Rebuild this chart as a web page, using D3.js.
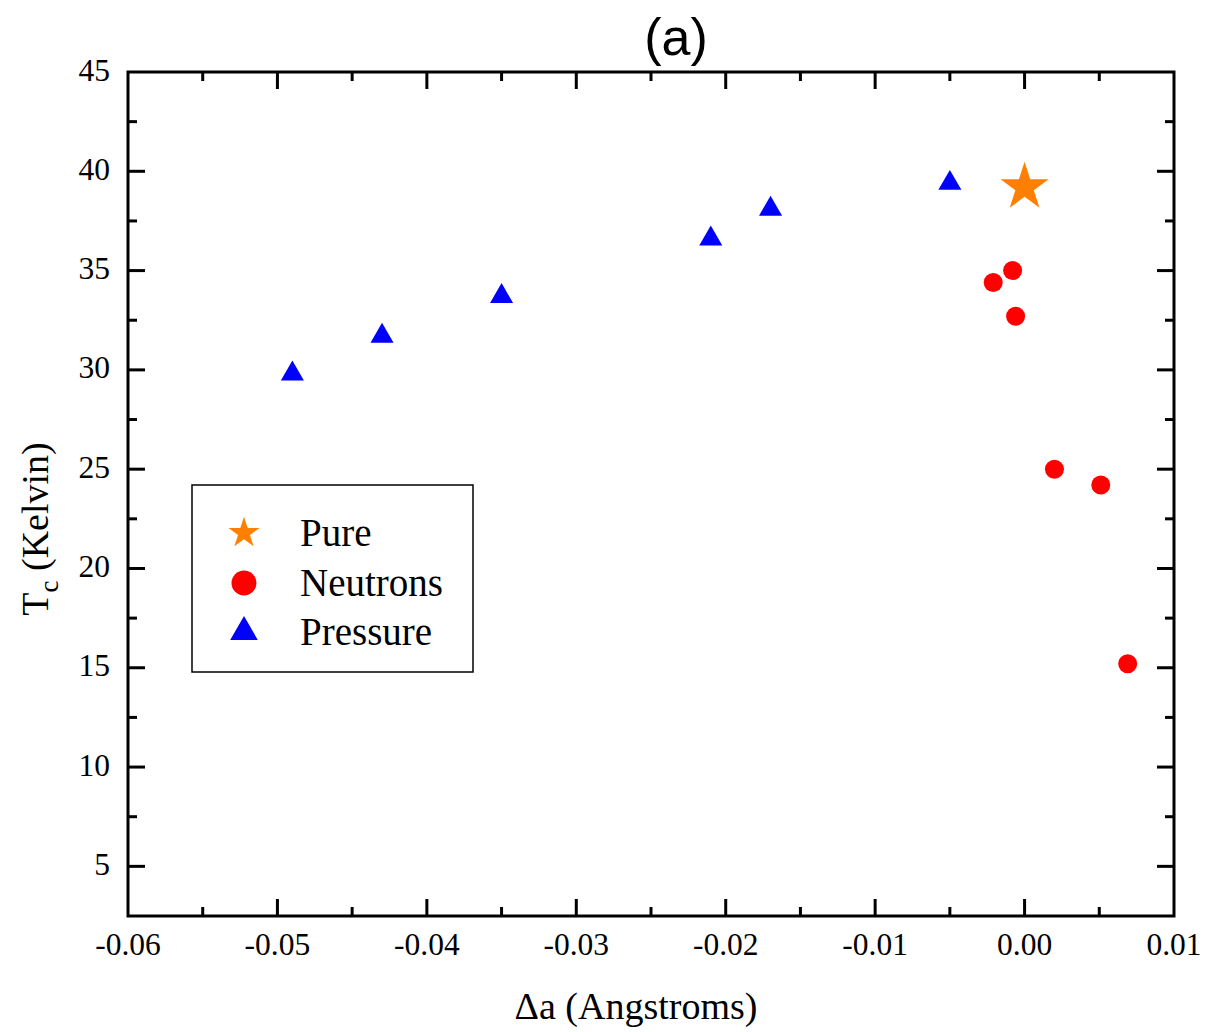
<!DOCTYPE html>
<html>
<head>
<meta charset="utf-8">
<script src="https://cdn.jsdelivr.net/npm/d3@7"></script>
<style>
  body { margin: 0; background: #fff; }
  svg text { font-family: "Liberation Serif", "Times New Roman", serif; fill: #000; }
</style>
</head>
<body>
<div id="chart"></div>
<script>
var width = 1205, height = 1032;
var margin = {left: 128, top: 72, right: 1205 - 1174, bottom: 1032 - 916};

// data
var pureX = [0.0];
var pureY = [39.2];

var neutronX = [-0.0021, -0.0008, -0.0006, 0.0020, 0.0051, 0.0069];
var neutronY = [34.4, 35.0, 32.7, 25.0, 24.2, 15.2];

var pressureX = [-0.049, -0.043, -0.035, -0.021, -0.017, -0.005];
var pressureY = [29.8, 31.7, 33.7, 36.6, 38.1, 39.4];

var xTicks = [-0.06, -0.05, -0.04, -0.03, -0.02, -0.01, 0.00, 0.01];
var yTicks = [5, 10, 15, 20, 25, 30, 35, 40, 45];
var legendNames = ["Pure", "Neutrons", "Pressure"];

var svg = d3.select("#chart").append("svg")
    .attr("width", width)
    .attr("height", height);

var x = d3.scaleLinear().domain([-0.06, 0.01]).range([margin.left, width - margin.right]);
var y = d3.scaleLinear().domain([2.5, 45]).range([height - margin.bottom, margin.top]);

var x0 = x.range()[0], x1 = x.range()[1];
var y0 = y.range()[0], y1 = y.range()[1];

var xMinor = d3.range(-0.055, 0.01, 0.01);
var yMinor = d3.range(7.5, 45, 5);

// frame
svg.append("rect")
    .attr("x", x0).attr("y", y1)
    .attr("width", x1 - x0).attr("height", y0 - y1)
    .style("fill", "none").style("stroke", "#000").style("stroke-width", 3);

// ticks, inward on all four sides
function tickLines(vals, len, horizontal) {
    vals.forEach(function(v) {
        if (horizontal) {
            var px = x(v);
            svg.append("line").attr("x1", px).attr("x2", px).attr("y1", y0).attr("y2", y0 - len)
                .style("stroke", "#000").style("stroke-width", 3);
            svg.append("line").attr("x1", px).attr("x2", px).attr("y1", y1).attr("y2", y1 + len)
                .style("stroke", "#000").style("stroke-width", 3);
        } else {
            var py = y(v);
            svg.append("line").attr("x1", x0).attr("x2", x0 + len).attr("y1", py).attr("y2", py)
                .style("stroke", "#000").style("stroke-width", 3);
            svg.append("line").attr("x1", x1).attr("x2", x1 - len).attr("y1", py).attr("y2", py)
                .style("stroke", "#000").style("stroke-width", 3);
        }
    });
}
tickLines(xTicks.slice(1, -1), 17, true);
tickLines(xMinor, 9, true);
tickLines(yTicks.slice(0, -1), 17, false);
tickLines(yMinor, 9, false);

// tick labels
svg.selectAll(".xlab").data(xTicks).enter().append("text")
    .attr("x", function(d) { return x(d); })
    .attr("y", y0 + 39)
    .attr("text-anchor", "middle")
    .style("font-size", "31.5px")
    .text(function(d) { return d3.format(".2f")(d).replace("−", "-"); });

svg.selectAll(".ylab").data(yTicks).enter().append("text")
    .attr("x", x0 - 18)
    .attr("y", function(d) { return y(d); })
    .attr("dy", "0.27em")
    .attr("text-anchor", "end")
    .style("font-size", "31.5px")
    .text(function(d) { return d; });

// axis titles
svg.append("text")
    .attr("x", 636)
    .attr("y", 1019)
    .attr("text-anchor", "middle")
    .style("font-size", "38px")
    .text("Δa (Angstroms)");

var yt = svg.append("text")
    .attr("transform", "translate(48," + 529 + ") rotate(-90)")
    .attr("text-anchor", "middle")
    .style("font-size", "38px");
yt.append("tspan").text("T");
yt.append("tspan").attr("dy", 10).style("font-size", "27px").text("c");
yt.append("tspan").attr("dy", -10).text(" (Kelvin)");

// title
svg.append("text")
    .attr("x", 676)
    .attr("y", 55)
    .attr("text-anchor", "middle")
    .style("font-family", "'Liberation Sans', Arial, sans-serif")
    .style("font-size", "52px")
    .text("(a)");

// markers
var star = d3.symbol().type(d3.symbolStar).size(720);
var starSmall = d3.symbol().type(d3.symbolStar).size(300);
var tri = d3.symbol().type(d3.symbolTriangle).size(230);

svg.selectAll(".pressure").data(pressureX).enter().append("path")
    .attr("d", tri)
    .attr("transform", function(d, i) { return "translate(" + x(d) + "," + y(pressureY[i]) + ")"; })
    .style("fill", "#0000ff");

svg.selectAll(".neutron").data(neutronX).enter().append("circle")
    .attr("cx", function(d) { return x(d); })
    .attr("cy", function(d, i) { return y(neutronY[i]); })
    .attr("r", 9.5)
    .style("fill", "#ff0000");

svg.selectAll(".pure").data(pureX).enter().append("path")
    .attr("d", star)
    .attr("transform", function(d, i) { return "translate(" + x(d) + "," + y(pureY[i]) + ")"; })
    .style("fill", "#ff8000");

// legend
var lg = svg.append("g");
lg.append("rect")
    .attr("x", 192).attr("y", 485).attr("width", 281).attr("height", 187)
    .style("fill", "#fff").style("stroke", "#000").style("stroke-width", 1.5);

var legendY = [533, 583, 632];
lg.append("path").attr("d", starSmall).attr("transform", "translate(244," + legendY[0] + ")").style("fill", "#ff8000");
lg.append("circle").attr("cx", 244).attr("cy", legendY[1]).attr("r", 12.5).style("fill", "#ff0000");
lg.append("path").attr("d", d3.symbol().type(d3.symbolTriangle).size(330))
    .attr("transform", "translate(244," + legendY[2] + ")").style("fill", "#0000ff");

lg.selectAll(".lt").data(legendNames).enter().append("text")
    .attr("x", 300)
    .attr("y", function(d, i) { return legendY[i]; })
    .attr("dy", "0.33em")
    .style("font-size", "39px")
    .text(function(d) { return d; });
</script>
</body>
</html>
